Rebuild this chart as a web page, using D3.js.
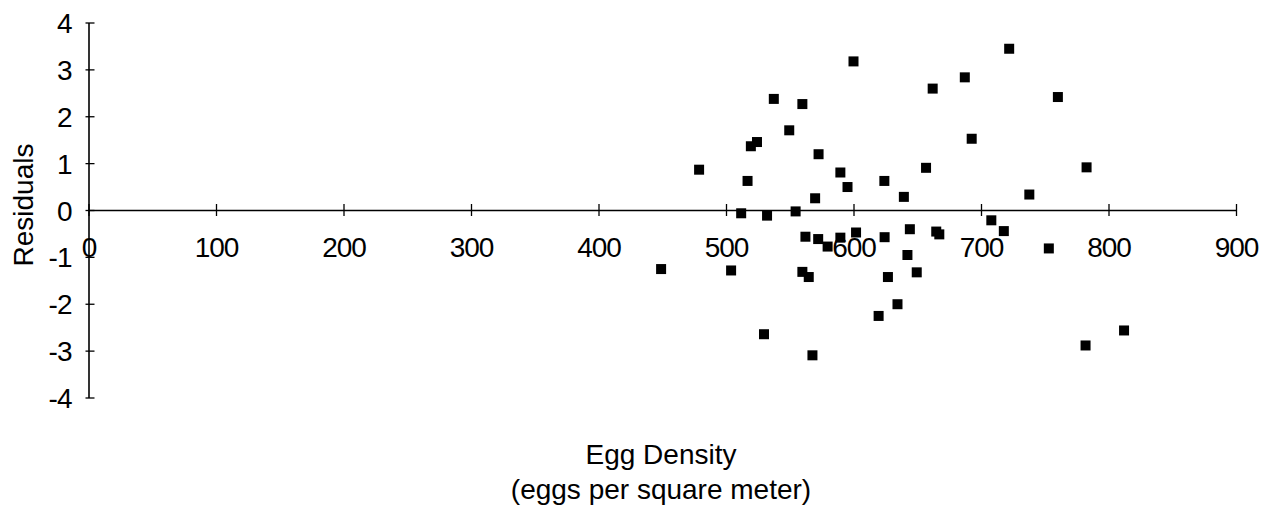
<!DOCTYPE html>
<html>
<head>
<meta charset="utf-8">
<script src="https://cdn.jsdelivr.net/npm/d3@7"></script>
<style>
  html, body { margin: 0; padding: 0; background: #fff; }
  svg { display: block; }
  text { font-family: "Liberation Sans", Arial, sans-serif; fill: #000; }
</style>
</head>
<body>
<svg id="chart" width="1277" height="514"></svg>
<script>
// ---- data ----
const eggDensity = [
  600, 537.5, 559.9, 549.6, 524.3, 519.5, 572.6, 478.9, 589.7, 595.3,
  516.9, 569.9, 511.9, 532.2, 554.6, 562.3, 572.3, 579.7, 589.7, 602,
  449.1, 504.0, 559.9, 564.9, 529.8, 567.8, 722.1, 687.3, 662.1, 760.3,
  692.7, 656.9, 624.2, 639.5, 737.9, 708.1, 717.9, 624.4, 644.2, 664.9,
  667.3, 753.2, 642.3, 627.0, 649.6, 634.5, 619.7, 782.8, 812.2, 782.0
];
const residuals = [
  3.17, 2.37, 2.26, 1.70, 1.45, 1.36, 1.19, 0.86, 0.80, 0.49,
  0.62, 0.25, -0.07, -0.12, -0.03, -0.57, -0.62, -0.78, -0.59, -0.48,
  -1.26, -1.29, -1.32, -1.43, -2.65, -3.10, 3.44, 2.83, 2.59, 2.41,
  1.52, 0.90, 0.62, 0.28, 0.33, -0.22, -0.45, -0.58, -0.41, -0.46,
  -0.52, -0.82, -0.96, -1.43, -1.33, -2.01, -2.26, 0.91, -2.57, -2.89
];
const xTickValues = [0, 100, 200, 300, 400, 500, 600, 700, 800, 900];
const yTickValues = [-4, -3, -2, -1, 0, 1, 2, 3, 4];
const xTitleLines = ["Egg Density", "(eggs per square meter)"];
const yTitle = "Residuals";

// ---- drawing ----
const svg = d3.select("#chart");
const x = d3.scaleLinear().domain([0, 900]).range([88.5, 1236]);
const y = d3.scaleLinear().domain([-4, 4]).range([397.5, 22.5]);

// Y axis
const yAxis = d3.axisLeft(y).tickValues(yTickValues).tickSizeOuter(0).tickSizeInner(0)
  .tickFormat(d3.format("d"));
const gy = svg.append("g").attr("transform", `translate(${x(0)},0)`).call(yAxis);
gy.select(".domain").attr("stroke", "#000").attr("stroke-width", 1.6);
gy.selectAll(".tick line").attr("x1", -3).attr("x2", 6).attr("stroke", "#000").attr("stroke-width", 1.3);
gy.selectAll(".tick text")
  .attr("x", -17).attr("dy", "0.36em")
  .style("font-size", "28px").style("letter-spacing", "-1px")
  .style("font-family", "'Liberation Sans', Arial, sans-serif").attr("fill", "#000")
  .text(d => d < 0 ? "-" + Math.abs(d) : String(d));

// X axis at y = 0
const xAxis = d3.axisBottom(x).tickValues(xTickValues).tickSizeOuter(0).tickSizeInner(0)
  .tickFormat(d3.format("d"));
const gx = svg.append("g").attr("transform", `translate(0,${y(0)})`).call(xAxis);
gx.select(".domain").attr("stroke", "#000").attr("stroke-width", 1.6);
gx.selectAll(".tick line").attr("y1", -6).attr("y2", 6).attr("stroke", "#000").attr("stroke-width", 1.3);
gx.selectAll(".tick text")
  .attr("y", 47).attr("dy", "0")
  .style("font-size", "28px").style("letter-spacing", "-1px")
  .style("font-family", "'Liberation Sans', Arial, sans-serif").attr("fill", "#000");

// Points
const sq = 10;
svg.append("g").selectAll("rect")
  .data(eggDensity.map((d, i) => ({ x: d, y: residuals[i] })))
  .join("rect")
  .attr("x", d => x(d.x) - sq / 2)
  .attr("y", d => y(d.y) - sq / 2)
  .attr("width", sq).attr("height", sq)
  .attr("fill", "#000");

// Axis titles
svg.append("text")
  .attr("transform", `translate(33,205) rotate(-90)`)
  .attr("text-anchor", "middle")
  .style("font-size", "28px")
  .text(yTitle);

svg.append("g").selectAll("text")
  .data(xTitleLines)
  .join("text")
  .attr("x", 661)
  .attr("y", (d, i) => 464 + i * 35)
  .attr("text-anchor", "middle")
  .style("font-size", "28px")
  .text(d => d);
</script>
</body>
</html>
